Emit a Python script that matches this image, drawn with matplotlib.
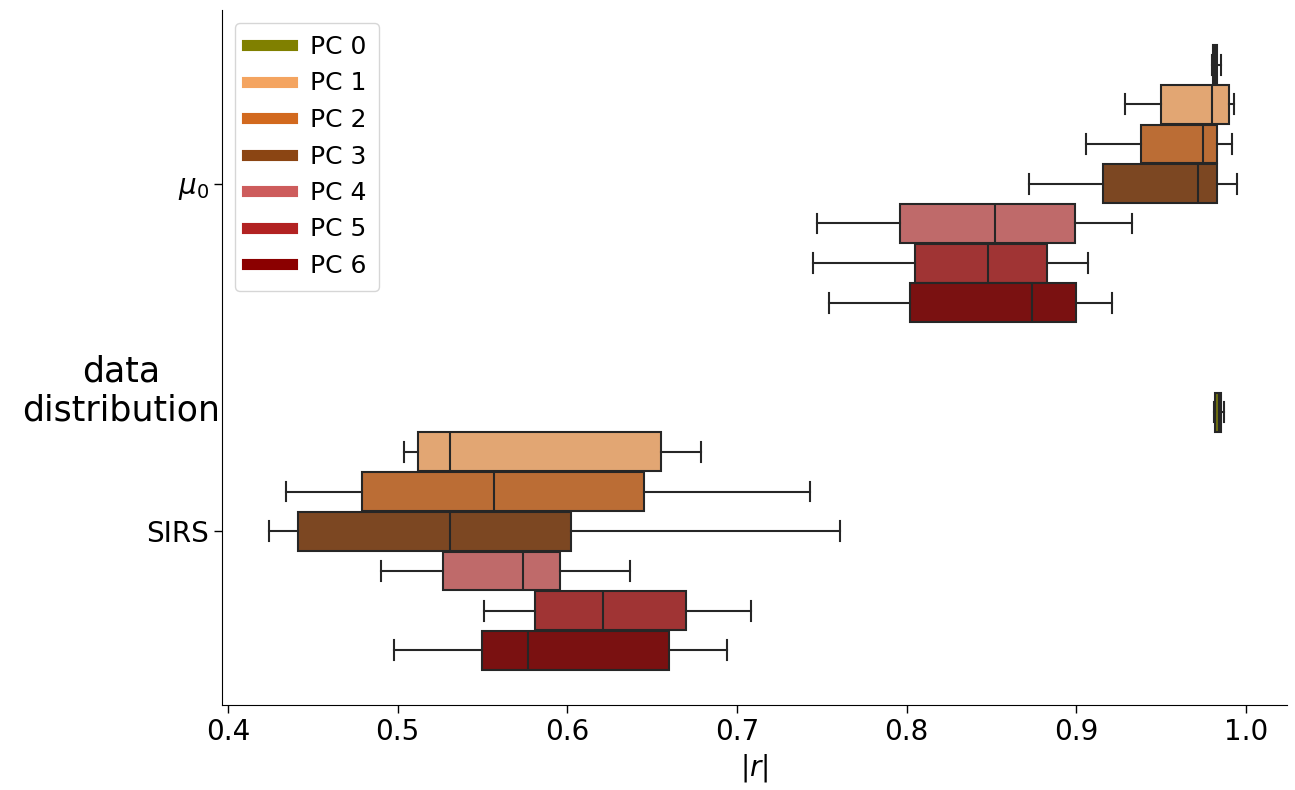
import colorsys

import matplotlib
matplotlib.use("Agg")
import matplotlib.pyplot as plt
import matplotlib.colors as mcolors
from matplotlib.lines import Line2D

# categories and hue levels
categories = [r"$\mu_0$", "SIRS"]
hue_labels = ["PC 0", "PC 1", "PC 2", "PC 3", "PC 4", "PC 5", "PC 6"]
hue_colors = ["olive", "sandybrown", "chocolate", "saddlebrown",
              "indianred", "firebrick", "darkred"]

# box stats per category: (whislo, q1, med, q3, whishi) for each PC
mu0_stats = [
    (0.9800, 0.9806, 0.9818, 0.9830, 0.9855),
    (0.929, 0.950, 0.980, 0.990, 0.993),
    (0.906, 0.938, 0.9745, 0.983, 0.992),
    (0.872, 0.916, 0.9716, 0.983, 0.995),
    (0.747, 0.796, 0.852, 0.899, 0.933),
    (0.745, 0.805, 0.848, 0.883, 0.907),
    (0.754, 0.802, 0.874, 0.900, 0.921),
]
sirs_stats = [
    (0.9810, 0.9815, 0.9840, 0.9855, 0.9870),
    (0.504, 0.512, 0.531, 0.655, 0.679),
    (0.434, 0.479, 0.557, 0.645, 0.743),
    (0.424, 0.441, 0.531, 0.602, 0.761),
    (0.490, 0.527, 0.574, 0.596, 0.637),
    (0.551, 0.581, 0.621, 0.670, 0.708),
    (0.498, 0.550, 0.577, 0.660, 0.694),
]
all_stats = [mu0_stats, sirs_stats]


def desaturate(color, prop=0.75):
    r, g, b = mcolors.to_rgb(color)
    h, l, s = colorsys.rgb_to_hls(r, g, b)
    return colorsys.hls_to_rgb(h, l, s * prop)


fig = plt.figure(figsize=(12.95, 7.9), dpi=100)
ax = fig.add_axes([222 / 1295, 1 - 705 / 790, 1065 / 1295, 695 / 790])

n_hue = len(hue_labels)
width = 0.8 / n_hue
line_kw = dict(color="#262626", linewidth=1.5)

for ci, stats in enumerate(all_stats):
    for hi, (lo, q1, med, q3, hi_w) in enumerate(stats):
        pos = ci - 0.4 + (hi + 0.5) * width
        box = dict(whislo=lo, q1=q1, med=med, q3=q3, whishi=hi_w, fliers=[])
        ax.bxp([box], positions=[pos], widths=width * 0.98, vert=False,
               patch_artist=True, showfliers=False,
               boxprops=dict(facecolor=desaturate(hue_colors[hi]),
                             edgecolor="#262626", linewidth=1.5),
               whiskerprops=line_kw, capprops=line_kw,
               medianprops=line_kw, capwidths=width * 0.5,
               manage_ticks=False)

ax.set_ylim(1.5, -0.5)
ax.set_xlim(0.3965, 1.0242)
ax.set_yticks(range(len(categories)))
ax.set_yticklabels(categories)
ax.tick_params(axis="both", labelsize=20, length=6, width=1)
ax.set_xlabel(r"$|r|$", fontsize=20)
ax.set_ylabel("data\ndistribution", fontsize=25, rotation=0,
              ha="center", va="top")
ax.yaxis.set_label_coords(-0.095, 0.505)
ax.spines["top"].set_visible(False)
ax.spines["right"].set_visible(False)

handles = [Line2D([0], [0], color=c, lw=8) for c in hue_colors]
ax.legend(handles, hue_labels, loc="upper left", fontsize=18,
          handlelength=1.8, handletextpad=0.7, borderpad=0.5,
          labelspacing=0.5)

fig.savefig("out.png", dpi=100)
